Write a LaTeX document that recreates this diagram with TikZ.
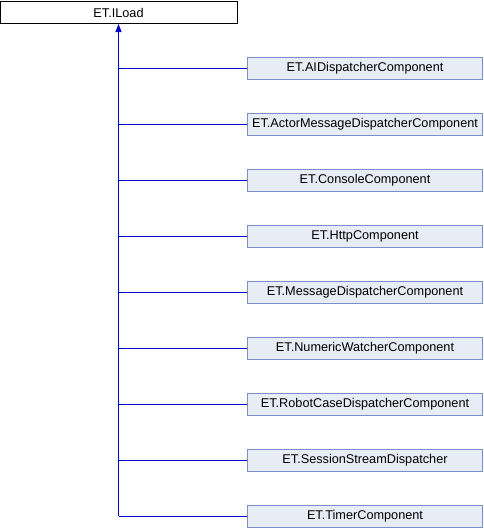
\documentclass[tikz,border=0pt]{standalone}
\usepackage{fontspec}
\setmainfont{Liberation Sans}
\usetikzlibrary{arrows.meta}
\definecolor{boxfill}{RGB}{232,236,245}
\definecolor{boxline}{RGB}{122,143,198}
\definecolor{edgeblue}{RGB}{0,0,200}
\tikzset{
  basebox/.style={draw=black,fill=white,line width=1pt,minimum width=237pt,minimum height=22pt,inner sep=0pt,font=\fontsize{12.7}{14}\selectfont},
  childbox/.style={draw=boxline,fill=boxfill,line width=1pt,minimum width=235pt,minimum height=22pt,inner sep=0pt,font=\fontsize{12.7}{14}\selectfont},
  inheritline/.style={color=edgeblue,line width=1pt}
}
\begin{document}
\begin{tikzpicture}[x=1pt,y=-1pt]
\useasboundingbox (0,0) rectangle (484,528);
\node[basebox] (iload) at (118.5,12.5) {ET.ILoad};
\foreach \nm [count=\i] in {AIDispatcherComponent,ActorMessageDispatcherComponent,ConsoleComponent,HttpComponent,MessageDispatcherComponent,NumericWatcherComponent,RobotCaseDispatcherComponent,SessionStreamDispatcher,TimerComponent}
  {
  \node[childbox] (c\i) at (365,68+56*\i-56) {ET.\nm};
  \draw[inheritline] (c\i.west) -- (c\i.west -| iload.south);
  }
\draw[inheritline,{Triangle[length=8pt,width=6pt]}-] (iload.south) -- (iload.south |- c9.west);
\end{tikzpicture}
\end{document}
